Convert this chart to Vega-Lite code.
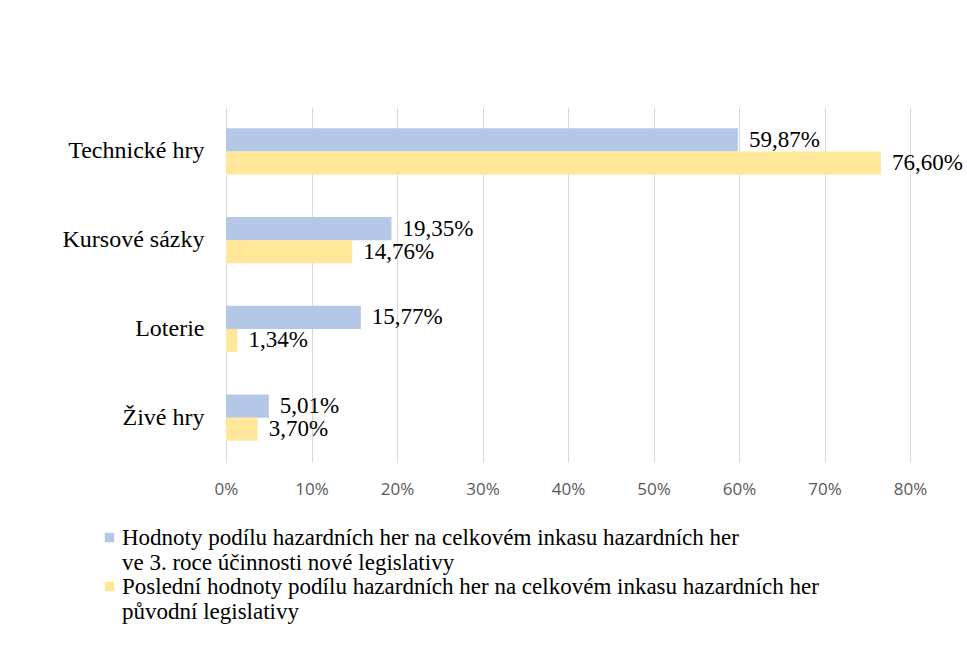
{
  "$schema": "https://vega.github.io/schema/vega-lite/v6.json",
  "width": 684,
  "height": 355,
  "autosize": "none",
  "padding": {"left": 226, "top": 107, "right": 57, "bottom": 193},
  "background": "white",
  "data": {
    "values": [
      {"category": "Technické hry", "series": "Hodnoty podílu hazardních her na celkovém inkasu hazardních her|\u00a0\u00a0ve 3. roce účinnosti nové legislativy", "value": 59.87, "label": "59,87%"},
      {"category": "Technické hry", "series": "Poslední hodnoty podílu hazardních her na celkovém inkasu hazardních her|původní legislativy", "value": 76.60, "label": "76,60%"},
      {"category": "Kursové sázky", "series": "Hodnoty podílu hazardních her na celkovém inkasu hazardních her|\u00a0\u00a0ve 3. roce účinnosti nové legislativy", "value": 19.35, "label": "19,35%"},
      {"category": "Kursové sázky", "series": "Poslední hodnoty podílu hazardních her na celkovém inkasu hazardních her|původní legislativy", "value": 14.76, "label": "14,76%"},
      {"category": "Loterie", "series": "Hodnoty podílu hazardních her na celkovém inkasu hazardních her|\u00a0\u00a0ve 3. roce účinnosti nové legislativy", "value": 15.77, "label": "15,77%"},
      {"category": "Loterie", "series": "Poslední hodnoty podílu hazardních her na celkovém inkasu hazardních her|původní legislativy", "value": 1.34, "label": "1,34%"},
      {"category": "Živé hry", "series": "Hodnoty podílu hazardních her na celkovém inkasu hazardních her|\u00a0\u00a0ve 3. roce účinnosti nové legislativy", "value": 5.01, "label": "5,01%"},
      {"category": "Živé hry", "series": "Poslední hodnoty podílu hazardních her na celkovém inkasu hazardních her|původní legislativy", "value": 3.70, "label": "3,70%"}
    ]
  },
  "encoding": {
    "y": {
      "field": "category",
      "type": "nominal",
      "sort": ["Technické hry", "Kursové sázky", "Loterie", "Živé hry"],
      "scale": {"paddingInner": 0.48, "paddingOuter": 0.24},
      "axis": {
        "title": null,
        "domain": false,
        "ticks": false,
        "labelPadding": 22,
        "labelFont": "Liberation Serif",
        "labelFontSize": 24,
        "labelColor": "#000000"
      }
    },
    "yOffset": {
      "field": "series",
      "type": "nominal",
      "sort": [
        "Hodnoty podílu hazardních her na celkovém inkasu hazardních her|\u00a0\u00a0ve 3. roce účinnosti nové legislativy",
        "Poslední hodnoty podílu hazardních her na celkovém inkasu hazardních her|původní legislativy"
      ]
    },
    "x": {
      "field": "value",
      "type": "quantitative",
      "scale": {"domain": [0, 80], "nice": false},
      "axis": {
        "title": null,
        "values": [0, 10, 20, 30, 40, 50, 60, 70, 80],
        "labelExpr": "datum.value + '%'",
        "labelFlush": false,
        "domain": false,
        "ticks": false,
        "grid": true,
        "gridColor": "#d9d9d9",
        "gridWidth": 1,
        "labelPadding": 19,
        "labelFont": "Open Sans",
        "labelFontSize": 17,
        "labelColor": "#595959"
      }
    }
  },
  "layer": [
    {
      "mark": {"type": "bar"},
      "encoding": {
        "color": {
          "field": "series",
          "type": "nominal",
          "scale": {
            "domain": [
              "Hodnoty podílu hazardních her na celkovém inkasu hazardních her|\u00a0\u00a0ve 3. roce účinnosti nové legislativy",
              "Poslední hodnoty podílu hazardních her na celkovém inkasu hazardních her|původní legislativy"
            ],
            "range": ["#b4c7e7", "#ffe699"]
          },
          "legend": {
            "orient": "none",
            "legendX": -128,
            "legendY": 419,
            "title": null,
            "symbolType": "square",
            "symbolSize": 90,
            "symbolStrokeWidth": 0,
            "labelFont": "Liberation Serif",
            "labelFontSize": 23,
            "labelColor": "#000000",
            "labelLimit": 900,
            "labelOffset": 1,
            "rowPadding": 0,
            "labelExpr": "split(datum.label, '|')"
          }
        }
      }
    },
    {
      "mark": {"type": "text", "align": "left", "baseline": "middle", "dx": 11, "font": "Liberation Serif", "fontSize": 23, "color": "#000000"},
      "encoding": {"text": {"field": "label"}}
    }
  ],
  "config": {"view": {"stroke": null}}
}
